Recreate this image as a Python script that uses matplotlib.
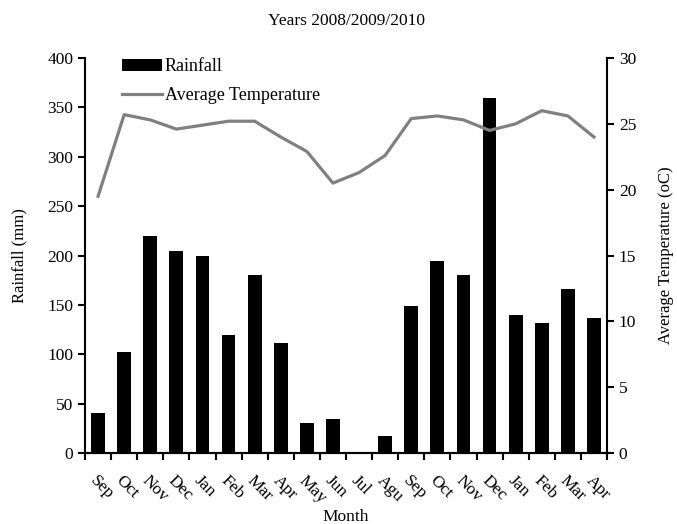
import numpy as np
import matplotlib
matplotlib.use("Agg")
import matplotlib.pyplot as plt

plt.rcParams['font.family'] = ['Liberation Serif', 'DejaVu Serif']

months = ['Sep', 'Oct', 'Nov', 'Dec', 'Jan', 'Feb', 'Mar', 'Apr', 'May', 'Jun',
          'Jul', 'Agu', 'Sep', 'Oct', 'Nov', 'Dec', 'Jan', 'Feb', 'Mar', 'Apr']
rainfall = [40, 102, 220, 205, 199, 119, 180, 111, 30, 34,
            0, 17, 149, 194, 180, 359, 140, 132, 166, 137]
temperature = [19.5, 25.7, 25.3, 24.6, 24.9, 25.2, 25.2, 24.0, 22.9, 20.5,
               21.3, 22.6, 25.4, 25.6, 25.3, 24.5, 25.0, 26.0, 25.6, 24.0]

fig = plt.figure(figsize=(6.77, 5.24), dpi=100)
ax = fig.add_axes([0.1256, 0.1355, 0.771, 0.7538])
x = np.arange(len(months))

bars = ax.bar(x, rainfall, width=0.53, color='black', label='Rainfall', zorder=2)
ax.set_xlim(-0.5, len(months) - 0.5)
ax.set_ylim(0, 400)
ax.set_yticks(range(0, 401, 50))
ax.set_ylabel('Rainfall (mm)', fontsize=12, labelpad=14)

ax2 = ax.twinx()
line, = ax2.plot(x, temperature, color='#808080', lw=2.3, label='Average Temperature')
ax2.set_ylim(0, 30)
ax2.set_yticks(range(0, 31, 5))
ax2.set_ylabel('Average Temperature (oC)', fontsize=12, labelpad=16)

# excel style: ticks between categories, labels rotated
ax.set_xticks(np.arange(-0.5, len(months), 1))
ax.set_xticklabels([])
ax.set_xticks(x, minor=True)
ax.set_xticklabels(months, minor=True, rotation=-45, ha='left', va='top',
                   rotation_mode='anchor', fontsize=12.5)
ax.tick_params(axis='x', which='minor', length=0, pad=14)
ax.tick_params(axis='x', which='major', length=5, width=1.5, direction='out')
ax.set_xlabel('Month', fontsize=12.5, labelpad=2)

ax.tick_params(axis='y', length=5, width=1.5, labelsize=12.5, direction='out')
ax2.tick_params(axis='y', length=5, width=1.5, labelsize=12.5, direction='out')

for a in (ax, ax2):
    a.spines['top'].set_visible(False)
    for s in a.spines.values():
        s.set_linewidth(1.5)
ax.spines['right'].set_visible(False)
ax2.spines['left'].set_visible(False)

ax.set_title('Years 2008/2009/2010', fontsize=12.5, pad=24)

ax.legend([bars, line], ['Rainfall', 'Average Temperature'], loc='upper left',
          bbox_to_anchor=(0.04, 1.04), frameon=False, fontsize=13,
          handlelength=2.2, handletextpad=0.15, labelspacing=0.65)

fig.savefig('out.png', dpi=100)
